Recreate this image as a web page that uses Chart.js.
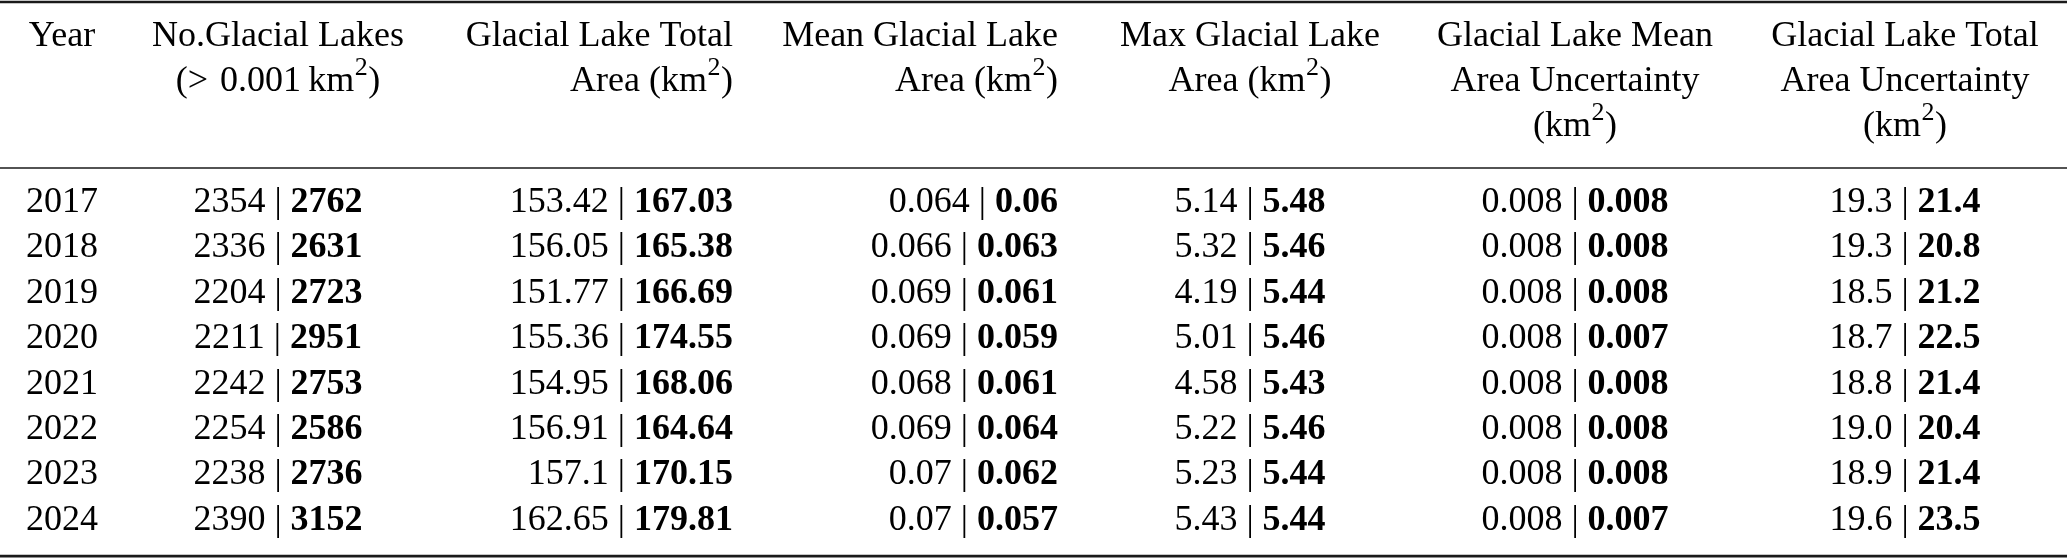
<!DOCTYPE html>
<html>
<head>
<meta charset="utf-8">
<script src="https://cdn.jsdelivr.net/npm/chart.js@4"></script>
<style>
  html, body { margin: 0; padding: 0; background: #ffffff; }
  #wrap { position: relative; width: 2067px; height: 558px; }
</style>
</head>
<body>
<div id="wrap"><canvas id="c"></canvas></div>
<script>
// ---- data ----
const years = [2017, 2018, 2019, 2020, 2021, 2022, 2023, 2024];
const lakesOld = [2354, 2336, 2204, 2211, 2242, 2254, 2238, 2390];
const lakesNew = [2762, 2631, 2723, 2951, 2753, 2586, 2736, 3152];
const totalAreaOld = [153.42, 156.05, 151.77, 155.36, 154.95, 156.91, 157.1, 162.65];
const totalAreaNew = [167.03, 165.38, 166.69, 174.55, 168.06, 164.64, 170.15, 179.81];
const meanAreaOld = [0.064, 0.066, 0.069, 0.069, 0.068, 0.069, 0.07, 0.07];
const meanAreaNew = [0.06, 0.063, 0.061, 0.059, 0.061, 0.064, 0.062, 0.057];
const maxAreaOld = [5.14, 5.32, 4.19, 5.01, 4.58, 5.22, 5.23, 5.43];
const maxAreaNew = [5.48, 5.46, 5.44, 5.46, 5.43, 5.46, 5.44, 5.44];
const meanUncOld = [0.008, 0.008, 0.008, 0.008, 0.008, 0.008, 0.008, 0.008];
const meanUncNew = [0.008, 0.008, 0.008, 0.007, 0.008, 0.008, 0.008, 0.007];
const totalUncOld = [19.3, 19.3, 18.5, 18.7, 18.8, 19.0, 18.9, 19.6];
const totalUncNew = [21.4, 20.8, 21.2, 22.5, 21.4, 20.4, 21.4, 23.5];
const headers = [
  ["Year"],
  ["No.Glacial Lakes", "(>\u20040.001\u2009km^2)"],
  ["Glacial Lake Total", "Area (km^2)"],
  ["Mean Glacial Lake", "Area (km^2)"],
  ["Max Glacial Lake", "Area (km^2)"],
  ["Glacial Lake Mean", "Area Uncertainty", "(km^2)"],
  ["Glacial Lake Total", "Area Uncertainty", "(km^2)"]
];

// ---- layout (positions in scale units, not data) ----
const colAnchor = [62, 278, 733, 1058, 1250, 1575, 1905];
const colAlign = ['center', 'center', 'right', 'right', 'center', 'center', 'center'];
const headerRows = [-3.656, -2.665, -1.674];
const ruleRows = [{ r: -4.626, w: 2.6 }, { r: -0.969, w: 1.6 }, { r: 7.58, w: 2.6 }];
const FONT = '"Liberation Serif", "Times New Roman", serif';
const SIZE = 36;

const fmt1 = v => v.toFixed(1);
const str = v => String(v);
const pairs = [
  null,
  [lakesOld, lakesNew, str],
  [totalAreaOld, totalAreaNew, str],
  [meanAreaOld, meanAreaNew, str],
  [maxAreaOld, maxAreaNew, str],
  [meanUncOld, meanUncNew, str],
  [totalUncOld, totalUncNew, fmt1]
];

function cellSegments(c, i) {
  if (c === 0) return [{ t: String(years[i]) }];
  const [o, n, f] = pairs[c];
  return [{ t: f(o[i]) + ' | ' }, { t: f(n[i]), b: true }];
}
function headerSegments(s) {
  const parts = s.split(/\^(\d)/);
  const segs = [];
  parts.forEach((p, k) => { if (p) segs.push(k % 2 ? { t: p, sup: true } : { t: p }); });
  return segs;
}
function segFont(s) {
  return (s.b ? 'bold ' : '') + (s.sup ? Math.round(SIZE * 0.72) : SIZE) + 'px ' + FONT;
}
function drawRich(ctx, segs, x, y, align) {
  let total = 0;
  const widths = segs.map(s => { ctx.font = segFont(s); const w = ctx.measureText(s.t).width + (s.sup ? 1 : 0); total += w; return w; });
  let cx = align === 'center' ? x - total / 2 : align === 'right' ? x - total : x;
  segs.forEach((s, k) => {
    ctx.font = segFont(s);
    ctx.fillText(s.t, cx + (s.sup ? 0.5 : 0), s.sup ? y - SIZE * 0.44 : y);
    cx += widths[k];
  });
}

const tablePlugin = {
  id: 'tableText',
  afterDatasetsDraw(chart) {
    const ctx = chart.ctx;
    const xs = chart.scales.x, ys = chart.scales.y;
    ctx.save();
    ctx.fillStyle = '#000';
    ctx.textBaseline = 'alphabetic';
    ctx.textAlign = 'left';
    // header
    headers.forEach((lines, c) => {
      lines.forEach((ln, k) => {
        drawRich(ctx, headerSegments(ln), xs.getPixelForValue(colAnchor[c]), ys.getPixelForValue(headerRows[k]), colAlign[c]);
      });
    });
    // cells
    chart.data.datasets.forEach((ds, c) => {
      const meta = chart.getDatasetMeta(c);
      meta.data.forEach((pt, i) => {
        drawRich(ctx, cellSegments(c, i), pt.x, pt.y, colAlign[c]);
      });
    });
    // rules
    ctx.strokeStyle = '#1a1a1a';
    ruleRows.forEach(rr => {
      const y = ys.getPixelForValue(rr.r);
      ctx.lineWidth = rr.w;
      ctx.beginPath();
      ctx.moveTo(chart.chartArea.left, y);
      ctx.lineTo(chart.chartArea.right, y);
      ctx.stroke();
    });
    ctx.restore();
  }
};

const datasets = colAnchor.map((ax, c) => ({
  label: 'col' + c,
  data: years.map((yr, i) => ({ x: ax, y: i })),
  pointRadius: 0,
  pointHoverRadius: 0,
  showLine: false
}));

new Chart(document.getElementById('c'), {
  type: 'scatter',
  data: { datasets },
  options: {
    responsive: true,
    maintainAspectRatio: false,
    animation: false,
    events: [],
    layout: { padding: 0 },
    plugins: { legend: { display: false }, tooltip: { enabled: false } },
    scales: {
      x: { type: 'linear', min: 0, max: 2067, display: false },
      y: { type: 'linear', min: -4.670, max: 7.621, reverse: true, display: false }
    }
  },
  plugins: [tablePlugin]
});
</script>
</body>
</html>
